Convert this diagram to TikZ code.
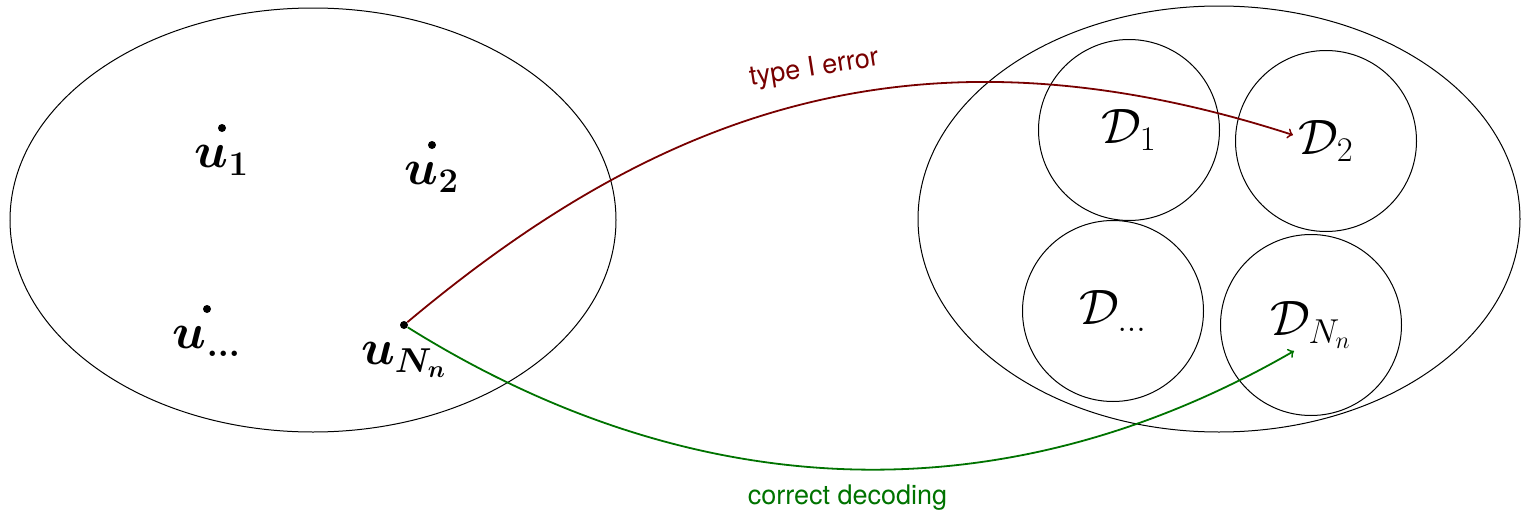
\documentclass[tikz,border=0pt]{standalone}
\usepackage{amsmath}
\usepackage{bm}
\usepackage{fontspec}
\setsansfont{TeX Gyre Heros}
\definecolor{errred}{RGB}{120,0,0}
\definecolor{okgreen}{RGB}{0,115,0}
\tikzset{
  region/.style={draw, line width=0.5pt},
  dset/.style={draw, circle, line width=0.5pt, minimum size=90.5pt, inner sep=0pt,
    font=\fontsize{25}{30}\selectfont},
  upoint/.style={circle, fill, inner sep=0pt, minimum size=4pt,
    label={[font=\fontsize{25}{30}\selectfont, label distance=3pt]below:#1}},
  errarrow/.style={->, draw=errred, line width=0.9pt},
  okarrow/.style={->, draw=okgreen, line width=0.9pt},
  errlabel/.style={text=errred, font=\sffamily\fontsize{13.5}{16}\selectfont},
  oklabel/.style={text=okgreen, font=\sffamily\fontsize{13.5}{16}\selectfont}
}
\begin{document}
\begin{tikzpicture}[x=0.5pt, y=-0.5pt]
\useasboundingbox (0,0) rectangle (1522,514);
% regions
\draw[region] (313,220) ellipse [x radius=303, y radius=212];
\draw[region] (1219,219) ellipse [x radius=301, y radius=213];
% messages
\node[upoint={$\bm{u_1}$}] (u1) at (222,128) {};
\node[upoint={$\bm{u_2}$}] (u2) at (432,145) {};
\node[upoint={$\bm{u_{\dots}}$}] (u3) at (207,309) {};
\node[upoint={$\bm{u_{N_n}}$}] (uN) at (404,325) {};
% decoding sets
\node[dset] (D1) at (1129,130) {$\mathcal{D}_1$};
\node[dset] (D2) at (1326,141) {$\mathcal{D}_2$};
\node[dset] (D3) at (1113,311) {$\mathcal{D}_{\dots}$};
\node[dset] (DN) at (1311,325) {$\mathcal{D}_{N_n}$};
\coordinate (eD2) at (1293,135);
\coordinate (eDN) at (1294,351);
% connectors
\draw[errarrow] (uN) .. controls +(253,-212) and +(-378,-122) .. (eD2)
  node[errlabel, pos=0.52, rotate=9, yshift=16pt] (lerr) {type I error};
\draw[okarrow] (uN) .. controls +(288,180) and +(-293,169) .. (eDN)
  node[oklabel, pos=0.5, yshift=-14pt] (lok) {correct decoding};
\end{tikzpicture}
\end{document}
